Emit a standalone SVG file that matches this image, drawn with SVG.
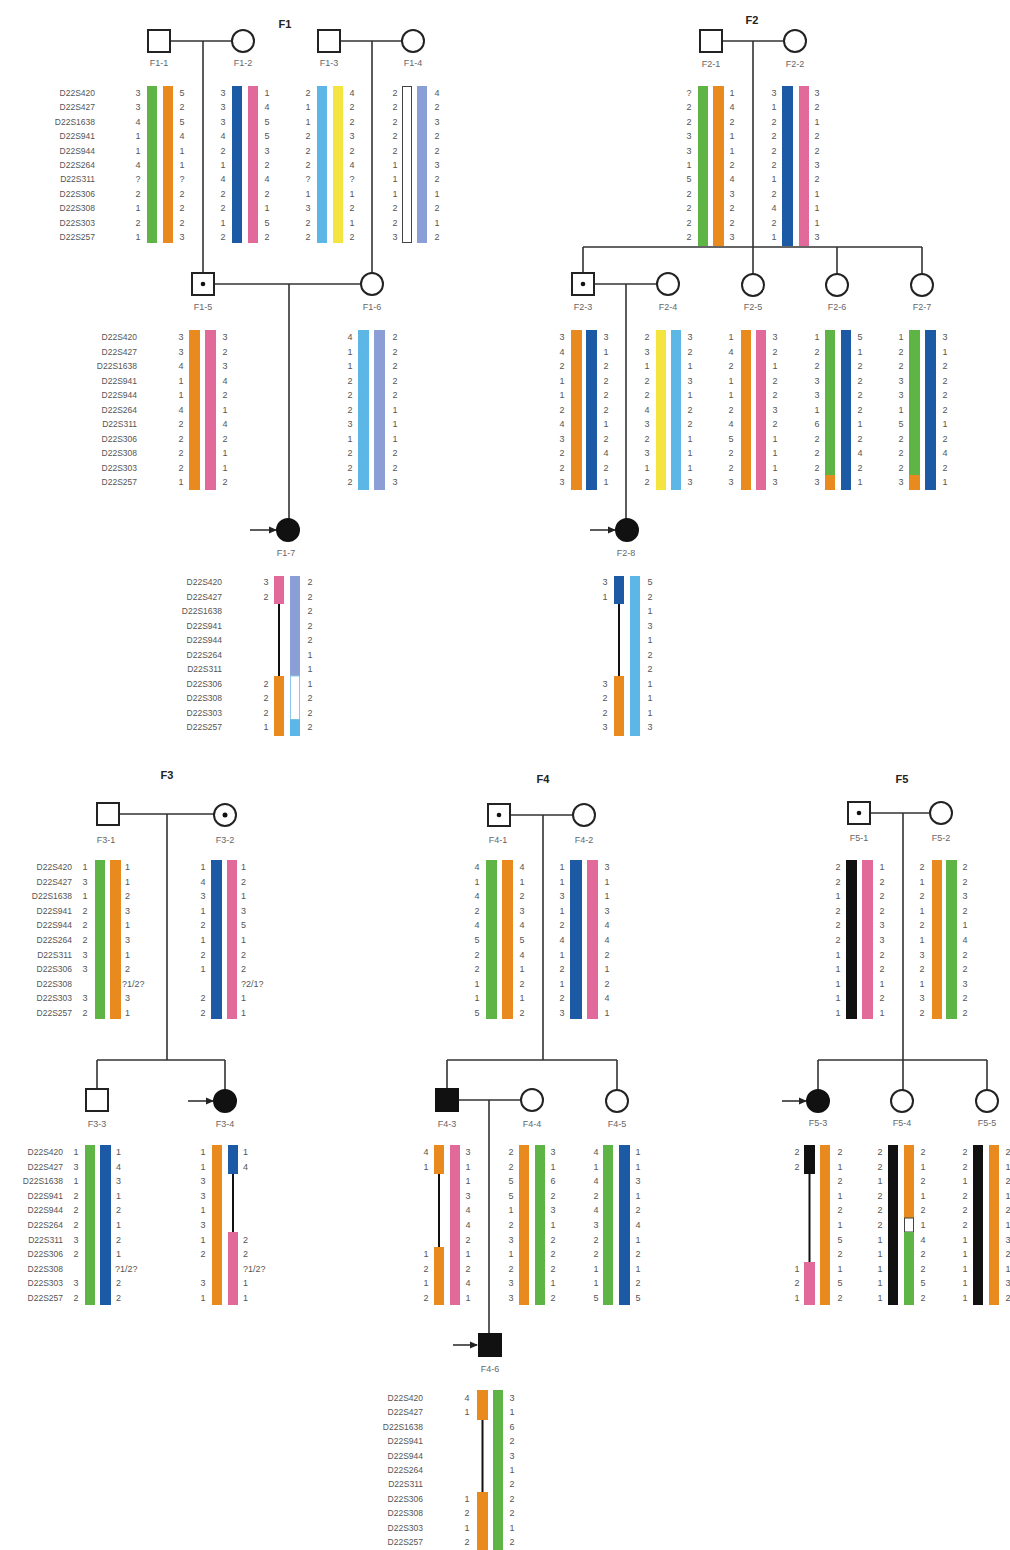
<svg xmlns="http://www.w3.org/2000/svg" width="1010" height="1550" viewBox="0 0 1010 1550">
<style>
.m{font-family:"Liberation Sans",Arial,sans-serif;font-size:8.5px;fill:#555;text-anchor:end}
.a{font-family:"Liberation Sans",Arial,sans-serif;font-size:9px;fill:#555;text-anchor:middle}
.s{font-family:"Liberation Sans",Arial,sans-serif;font-size:9px;fill:#555;text-anchor:start}
.l{font-family:"Liberation Sans",Arial,sans-serif;font-size:9px;fill:#666;text-anchor:middle}
.f{font-family:"Liberation Sans",Arial,sans-serif;font-size:11px;font-weight:bold;fill:#222;text-anchor:middle}
.sym{fill:#fff;stroke:#222;stroke-width:2}
.aff{fill:#111;stroke:#111;stroke-width:2}
.dot{fill:#111}
.ln{stroke:#333;stroke-width:1.6;fill:none}
.rl{stroke:#111;stroke-width:2;fill:none}
.g{fill:#5fb446}.o{fill:#e98a1e}.b{fill:#1d5aa5}.p{fill:#e26a9b}.lb{fill:#5cb6e6}.y{fill:#f4e440}.pw{fill:#8b9fd6}.k{fill:#111}
.w{fill:#fff;stroke:#444;stroke-width:1}
.wl{fill:#fff;stroke:#8fc7ea;stroke-width:1}
</style>
<defs>
<marker id="ah" markerWidth="8" markerHeight="8" refX="7" refY="4" orient="auto" markerUnits="userSpaceOnUse">
<path d="M0,0.5 L8,4 L0,7.5 Z" fill="#222"/>
</marker>
</defs>

<g id="titles">
<text class="f" x="285" y="28">F1</text>
<text class="f" x="752" y="24">F2</text>
<text class="f" x="167" y="779">F3</text>
<text class="f" x="543" y="783">F4</text>
<text class="f" x="902" y="783">F5</text>
</g>

<g id="connectors">
<path class="ln" d="M170,41H232M203,41V273"/>
<path class="ln" d="M340,41H402M372,41V273"/>
<path class="ln" d="M213,284H361M289,284V519"/>
<path class="ln" d="M722,41H784M753,41V247M583,247H922M583,247V273M753,247V274M837,247V274M922,247V274"/>
<path class="ln" d="M594,284H657M626,284V519"/>
<path class="ln" d="M118,814H214M167,814V1060M97,1060H225M97,1060V1089M225,1060V1090"/>
<path class="ln" d="M510,815H573M543,815V1060M447,1060H617M447,1060V1089M617,1060V1090"/>
<path class="ln" d="M458,1100H521M489,1100V1333"/>
<path class="ln" d="M870,813H929M903,813V1090M818,1060H987M818,1060V1090M987,1060V1090"/>
<line class="ln" x1="250" y1="530" x2="276" y2="530" marker-end="url(#ah)"/>
<line class="ln" x1="590" y1="530" x2="615" y2="530" marker-end="url(#ah)"/>
<line class="ln" x1="188" y1="1101" x2="213" y2="1101" marker-end="url(#ah)"/>
<line class="ln" x1="453" y1="1345" x2="477" y2="1345" marker-end="url(#ah)"/>
<line class="ln" x1="782" y1="1101" x2="806" y2="1101" marker-end="url(#ah)"/>
</g>

<g id="markers">
<text class="m"><tspan x="95" y="96">D22S420</tspan><tspan x="95" y="110.4">D22S427</tspan><tspan x="95" y="124.8">D22S1638</tspan><tspan x="95" y="139.2">D22S941</tspan><tspan x="95" y="153.6">D22S944</tspan><tspan x="95" y="168">D22S264</tspan><tspan x="95" y="182.4">D22S311</tspan><tspan x="95" y="196.8">D22S306</tspan><tspan x="95" y="211.2">D22S308</tspan><tspan x="95" y="225.6">D22S303</tspan><tspan x="95" y="240">D22S257</tspan></text>
<text class="m"><tspan x="137" y="340">D22S420</tspan><tspan x="137" y="354.5">D22S427</tspan><tspan x="137" y="369">D22S1638</tspan><tspan x="137" y="383.5">D22S941</tspan><tspan x="137" y="398">D22S944</tspan><tspan x="137" y="412.5">D22S264</tspan><tspan x="137" y="427">D22S311</tspan><tspan x="137" y="441.5">D22S306</tspan><tspan x="137" y="456">D22S308</tspan><tspan x="137" y="470.5">D22S303</tspan><tspan x="137" y="485">D22S257</tspan></text>
<text class="m"><tspan x="222" y="585">D22S420</tspan><tspan x="222" y="599.5">D22S427</tspan><tspan x="222" y="614">D22S1638</tspan><tspan x="222" y="628.5">D22S941</tspan><tspan x="222" y="643">D22S944</tspan><tspan x="222" y="657.5">D22S264</tspan><tspan x="222" y="672">D22S311</tspan><tspan x="222" y="686.5">D22S306</tspan><tspan x="222" y="701">D22S308</tspan><tspan x="222" y="715.5">D22S303</tspan><tspan x="222" y="730">D22S257</tspan></text>
<text class="m"><tspan x="72" y="870">D22S420</tspan><tspan x="72" y="884.6">D22S427</tspan><tspan x="72" y="899.2">D22S1638</tspan><tspan x="72" y="913.8">D22S941</tspan><tspan x="72" y="928.4">D22S944</tspan><tspan x="72" y="943">D22S264</tspan><tspan x="72" y="957.6">D22S311</tspan><tspan x="72" y="972.2">D22S306</tspan><tspan x="72" y="986.8">D22S308</tspan><tspan x="72" y="1001.4">D22S303</tspan><tspan x="72" y="1016">D22S257</tspan></text>
<text class="m"><tspan x="63" y="1155">D22S420</tspan><tspan x="63" y="1169.6">D22S427</tspan><tspan x="63" y="1184.2">D22S1638</tspan><tspan x="63" y="1198.8">D22S941</tspan><tspan x="63" y="1213.4">D22S944</tspan><tspan x="63" y="1228">D22S264</tspan><tspan x="63" y="1242.6">D22S311</tspan><tspan x="63" y="1257.2">D22S306</tspan><tspan x="63" y="1271.8">D22S308</tspan><tspan x="63" y="1286.4">D22S303</tspan><tspan x="63" y="1301">D22S257</tspan></text>
<text class="m"><tspan x="423" y="1401">D22S420</tspan><tspan x="423" y="1415.4">D22S427</tspan><tspan x="423" y="1429.8">D22S1638</tspan><tspan x="423" y="1444.2">D22S941</tspan><tspan x="423" y="1458.6">D22S944</tspan><tspan x="423" y="1473">D22S264</tspan><tspan x="423" y="1487.4">D22S311</tspan><tspan x="423" y="1501.8">D22S306</tspan><tspan x="423" y="1516.2">D22S308</tspan><tspan x="423" y="1530.6">D22S303</tspan><tspan x="423" y="1545">D22S257</tspan></text>
</g>

<!-- F1 -->
<g id="F1-1">
<rect class="sym" x="148" y="30" width="22" height="22"/>
<text class="l" x="159" y="66">F1-1</text>
<rect class="g" x="147" y="86" width="10" height="157"/><rect class="o" x="163" y="86" width="10" height="157"/>
<text class="a"><tspan x="138" y="96">3</tspan><tspan x="138" y="110.4">3</tspan><tspan x="138" y="124.8">4</tspan><tspan x="138" y="139.2">1</tspan><tspan x="138" y="153.6">1</tspan><tspan x="138" y="168">4</tspan><tspan x="138" y="182.4">?</tspan><tspan x="138" y="196.8">2</tspan><tspan x="138" y="211.2">1</tspan><tspan x="138" y="225.6">2</tspan><tspan x="138" y="240">1</tspan></text>
<text class="a"><tspan x="182" y="96">5</tspan><tspan x="182" y="110.4">2</tspan><tspan x="182" y="124.8">5</tspan><tspan x="182" y="139.2">4</tspan><tspan x="182" y="153.6">1</tspan><tspan x="182" y="168">1</tspan><tspan x="182" y="182.4">?</tspan><tspan x="182" y="196.8">2</tspan><tspan x="182" y="211.2">2</tspan><tspan x="182" y="225.6">2</tspan><tspan x="182" y="240">3</tspan></text>
</g>
<g id="F1-2">
<circle class="sym" cx="243" cy="41" r="11"/>
<text class="l" x="243" y="66">F1-2</text>
<rect class="b" x="232" y="86" width="10" height="157"/><rect class="p" x="248" y="86" width="10" height="157"/>
<text class="a"><tspan x="223" y="96">3</tspan><tspan x="223" y="110.4">3</tspan><tspan x="223" y="124.8">3</tspan><tspan x="223" y="139.2">4</tspan><tspan x="223" y="153.6">2</tspan><tspan x="223" y="168">1</tspan><tspan x="223" y="182.4">4</tspan><tspan x="223" y="196.8">2</tspan><tspan x="223" y="211.2">2</tspan><tspan x="223" y="225.6">1</tspan><tspan x="223" y="240">2</tspan></text>
<text class="a"><tspan x="267" y="96">1</tspan><tspan x="267" y="110.4">4</tspan><tspan x="267" y="124.8">5</tspan><tspan x="267" y="139.2">5</tspan><tspan x="267" y="153.6">3</tspan><tspan x="267" y="168">2</tspan><tspan x="267" y="182.4">4</tspan><tspan x="267" y="196.8">2</tspan><tspan x="267" y="211.2">1</tspan><tspan x="267" y="225.6">5</tspan><tspan x="267" y="240">2</tspan></text>
</g>
<g id="F1-3">
<rect class="sym" x="318" y="30" width="22" height="22"/>
<text class="l" x="329" y="66">F1-3</text>
<rect class="lb" x="317" y="86" width="10" height="157"/><rect class="y" x="333" y="86" width="10" height="157"/>
<text class="a"><tspan x="308" y="96">2</tspan><tspan x="308" y="110.4">1</tspan><tspan x="308" y="124.8">1</tspan><tspan x="308" y="139.2">2</tspan><tspan x="308" y="153.6">2</tspan><tspan x="308" y="168">2</tspan><tspan x="308" y="182.4">?</tspan><tspan x="308" y="196.8">1</tspan><tspan x="308" y="211.2">3</tspan><tspan x="308" y="225.6">2</tspan><tspan x="308" y="240">2</tspan></text>
<text class="a"><tspan x="352" y="96">4</tspan><tspan x="352" y="110.4">2</tspan><tspan x="352" y="124.8">2</tspan><tspan x="352" y="139.2">3</tspan><tspan x="352" y="153.6">2</tspan><tspan x="352" y="168">4</tspan><tspan x="352" y="182.4">?</tspan><tspan x="352" y="196.8">1</tspan><tspan x="352" y="211.2">2</tspan><tspan x="352" y="225.6">1</tspan><tspan x="352" y="240">2</tspan></text>
</g>
<g id="F1-4">
<circle class="sym" cx="413" cy="41" r="11"/>
<text class="l" x="413" y="66">F1-4</text>
<rect class="w" x="402.5" y="86.5" width="9" height="156"/><rect class="pw" x="417" y="86" width="10" height="157"/>
<text class="a"><tspan x="395" y="96">2</tspan><tspan x="395" y="110.4">2</tspan><tspan x="395" y="124.8">2</tspan><tspan x="395" y="139.2">2</tspan><tspan x="395" y="153.6">2</tspan><tspan x="395" y="168">1</tspan><tspan x="395" y="182.4">1</tspan><tspan x="395" y="196.8">1</tspan><tspan x="395" y="211.2">2</tspan><tspan x="395" y="225.6">2</tspan><tspan x="395" y="240">3</tspan></text>
<text class="a"><tspan x="437" y="96">4</tspan><tspan x="437" y="110.4">2</tspan><tspan x="437" y="124.8">3</tspan><tspan x="437" y="139.2">2</tspan><tspan x="437" y="153.6">2</tspan><tspan x="437" y="168">3</tspan><tspan x="437" y="182.4">2</tspan><tspan x="437" y="196.8">1</tspan><tspan x="437" y="211.2">2</tspan><tspan x="437" y="225.6">1</tspan><tspan x="437" y="240">2</tspan></text>
</g>
<g id="F1-5">
<rect class="sym" x="192" y="273" width="22" height="22"/><circle class="dot" cx="203" cy="284" r="2.3"/>
<text class="l" x="203" y="310">F1-5</text>
<rect class="o" x="189" y="330" width="11" height="160"/><rect class="p" x="205" y="330" width="11" height="160"/>
<text class="a"><tspan x="181" y="340">3</tspan><tspan x="181" y="354.5">3</tspan><tspan x="181" y="369">4</tspan><tspan x="181" y="383.5">1</tspan><tspan x="181" y="398">1</tspan><tspan x="181" y="412.5">4</tspan><tspan x="181" y="427">2</tspan><tspan x="181" y="441.5">2</tspan><tspan x="181" y="456">2</tspan><tspan x="181" y="470.5">2</tspan><tspan x="181" y="485">1</tspan></text>
<text class="a"><tspan x="225" y="340">3</tspan><tspan x="225" y="354.5">2</tspan><tspan x="225" y="369">3</tspan><tspan x="225" y="383.5">4</tspan><tspan x="225" y="398">2</tspan><tspan x="225" y="412.5">1</tspan><tspan x="225" y="427">4</tspan><tspan x="225" y="441.5">2</tspan><tspan x="225" y="456">1</tspan><tspan x="225" y="470.5">1</tspan><tspan x="225" y="485">2</tspan></text>
</g>
<g id="F1-6">
<circle class="sym" cx="372" cy="284" r="11"/>
<text class="l" x="372" y="310">F1-6</text>
<rect class="lb" x="358" y="330" width="11" height="160"/><rect class="pw" x="374" y="330" width="11" height="160"/>
<text class="a"><tspan x="350" y="340">4</tspan><tspan x="350" y="354.5">1</tspan><tspan x="350" y="369">1</tspan><tspan x="350" y="383.5">2</tspan><tspan x="350" y="398">2</tspan><tspan x="350" y="412.5">2</tspan><tspan x="350" y="427">3</tspan><tspan x="350" y="441.5">1</tspan><tspan x="350" y="456">2</tspan><tspan x="350" y="470.5">2</tspan><tspan x="350" y="485">2</tspan></text>
<text class="a"><tspan x="395" y="340">2</tspan><tspan x="395" y="354.5">2</tspan><tspan x="395" y="369">2</tspan><tspan x="395" y="383.5">2</tspan><tspan x="395" y="398">2</tspan><tspan x="395" y="412.5">1</tspan><tspan x="395" y="427">1</tspan><tspan x="395" y="441.5">1</tspan><tspan x="395" y="456">2</tspan><tspan x="395" y="470.5">2</tspan><tspan x="395" y="485">3</tspan></text>
</g>
<g id="F1-7">
<circle class="aff" cx="288" cy="530" r="11"/>
<text class="l" x="286" y="556">F1-7</text>
<rect class="p" x="274" y="576" width="10" height="28"/><path class="rl" d="M279,604V676"/><rect class="o" x="274" y="676" width="10" height="60"/>
<rect class="pw" x="290" y="576" width="10" height="100"/><rect class="wl" x="290.5" y="676" width="9" height="43.5"/><rect class="lb" x="290" y="719.5" width="10" height="16.5"/>
<text class="a"><tspan x="266" y="585">3</tspan><tspan x="266" y="599.5">2</tspan><tspan x="266" y="686.5">2</tspan><tspan x="266" y="701">2</tspan><tspan x="266" y="715.5">2</tspan><tspan x="266" y="730">1</tspan></text>
<text class="a"><tspan x="310" y="585">2</tspan><tspan x="310" y="599.5">2</tspan><tspan x="310" y="614">2</tspan><tspan x="310" y="628.5">2</tspan><tspan x="310" y="643">2</tspan><tspan x="310" y="657.5">1</tspan><tspan x="310" y="672">1</tspan><tspan x="310" y="686.5">1</tspan><tspan x="310" y="701">2</tspan><tspan x="310" y="715.5">2</tspan><tspan x="310" y="730">2</tspan></text>
</g>

<!-- F2 -->
<g id="F2-1">
<rect class="sym" x="700" y="30" width="22" height="22"/>
<text class="l" x="711" y="67">F2-1</text>
<rect class="g" x="698" y="86" width="10" height="160"/><rect class="o" x="713" y="86" width="11" height="160"/>
<text class="a"><tspan x="689" y="96">?</tspan><tspan x="689" y="110.4">2</tspan><tspan x="689" y="124.8">2</tspan><tspan x="689" y="139.2">3</tspan><tspan x="689" y="153.6">3</tspan><tspan x="689" y="168">1</tspan><tspan x="689" y="182.4">5</tspan><tspan x="689" y="196.8">2</tspan><tspan x="689" y="211.2">2</tspan><tspan x="689" y="225.6">2</tspan><tspan x="689" y="240">2</tspan></text>
<text class="a"><tspan x="732" y="96">1</tspan><tspan x="732" y="110.4">4</tspan><tspan x="732" y="124.8">2</tspan><tspan x="732" y="139.2">1</tspan><tspan x="732" y="153.6">1</tspan><tspan x="732" y="168">2</tspan><tspan x="732" y="182.4">4</tspan><tspan x="732" y="196.8">3</tspan><tspan x="732" y="211.2">2</tspan><tspan x="732" y="225.6">2</tspan><tspan x="732" y="240">3</tspan></text>
</g>
<g id="F2-2">
<circle class="sym" cx="795" cy="41" r="11"/>
<text class="l" x="795" y="67">F2-2</text>
<rect class="b" x="782" y="86" width="11" height="160"/><rect class="p" x="799" y="86" width="10" height="160"/>
<text class="a"><tspan x="774" y="96">3</tspan><tspan x="774" y="110.4">1</tspan><tspan x="774" y="124.8">2</tspan><tspan x="774" y="139.2">2</tspan><tspan x="774" y="153.6">2</tspan><tspan x="774" y="168">2</tspan><tspan x="774" y="182.4">1</tspan><tspan x="774" y="196.8">2</tspan><tspan x="774" y="211.2">4</tspan><tspan x="774" y="225.6">2</tspan><tspan x="774" y="240">1</tspan></text>
<text class="a"><tspan x="817" y="96">3</tspan><tspan x="817" y="110.4">2</tspan><tspan x="817" y="124.8">1</tspan><tspan x="817" y="139.2">2</tspan><tspan x="817" y="153.6">2</tspan><tspan x="817" y="168">3</tspan><tspan x="817" y="182.4">2</tspan><tspan x="817" y="196.8">1</tspan><tspan x="817" y="211.2">1</tspan><tspan x="817" y="225.6">1</tspan><tspan x="817" y="240">3</tspan></text>
</g>
<g id="F2-3">
<rect class="sym" x="572" y="273" width="22" height="22"/><circle class="dot" cx="583" cy="284" r="2.3"/>
<text class="l" x="583" y="310">F2-3</text>
<rect class="o" x="571" y="330" width="11" height="160"/><rect class="b" x="586" y="330" width="11" height="160"/>
<text class="a"><tspan x="562" y="340">3</tspan><tspan x="562" y="354.5">4</tspan><tspan x="562" y="369">2</tspan><tspan x="562" y="383.5">1</tspan><tspan x="562" y="398">1</tspan><tspan x="562" y="412.5">2</tspan><tspan x="562" y="427">4</tspan><tspan x="562" y="441.5">3</tspan><tspan x="562" y="456">2</tspan><tspan x="562" y="470.5">2</tspan><tspan x="562" y="485">3</tspan></text>
<text class="a"><tspan x="606" y="340">3</tspan><tspan x="606" y="354.5">1</tspan><tspan x="606" y="369">2</tspan><tspan x="606" y="383.5">2</tspan><tspan x="606" y="398">2</tspan><tspan x="606" y="412.5">2</tspan><tspan x="606" y="427">1</tspan><tspan x="606" y="441.5">2</tspan><tspan x="606" y="456">4</tspan><tspan x="606" y="470.5">2</tspan><tspan x="606" y="485">1</tspan></text>
</g>
<g id="F2-4">
<circle class="sym" cx="668" cy="284" r="11"/>
<text class="l" x="668" y="310">F2-4</text>
<rect class="y" x="656" y="330" width="10" height="160"/><rect class="lb" x="671" y="330" width="10" height="160"/>
<text class="a"><tspan x="647" y="340">2</tspan><tspan x="647" y="354.5">3</tspan><tspan x="647" y="369">1</tspan><tspan x="647" y="383.5">2</tspan><tspan x="647" y="398">2</tspan><tspan x="647" y="412.5">4</tspan><tspan x="647" y="427">3</tspan><tspan x="647" y="441.5">2</tspan><tspan x="647" y="456">3</tspan><tspan x="647" y="470.5">1</tspan><tspan x="647" y="485">2</tspan></text>
<text class="a"><tspan x="690" y="340">3</tspan><tspan x="690" y="354.5">2</tspan><tspan x="690" y="369">1</tspan><tspan x="690" y="383.5">3</tspan><tspan x="690" y="398">1</tspan><tspan x="690" y="412.5">2</tspan><tspan x="690" y="427">2</tspan><tspan x="690" y="441.5">1</tspan><tspan x="690" y="456">1</tspan><tspan x="690" y="470.5">1</tspan><tspan x="690" y="485">3</tspan></text>
</g>
<g id="F2-5">
<circle class="sym" cx="753" cy="285" r="11"/>
<text class="l" x="753" y="310">F2-5</text>
<rect class="o" x="741" y="330" width="10" height="160"/><rect class="p" x="756" y="330" width="10" height="160"/>
<text class="a"><tspan x="731" y="340">1</tspan><tspan x="731" y="354.5">4</tspan><tspan x="731" y="369">2</tspan><tspan x="731" y="383.5">1</tspan><tspan x="731" y="398">1</tspan><tspan x="731" y="412.5">2</tspan><tspan x="731" y="427">4</tspan><tspan x="731" y="441.5">5</tspan><tspan x="731" y="456">2</tspan><tspan x="731" y="470.5">2</tspan><tspan x="731" y="485">3</tspan></text>
<text class="a"><tspan x="775" y="340">3</tspan><tspan x="775" y="354.5">2</tspan><tspan x="775" y="369">1</tspan><tspan x="775" y="383.5">2</tspan><tspan x="775" y="398">2</tspan><tspan x="775" y="412.5">3</tspan><tspan x="775" y="427">2</tspan><tspan x="775" y="441.5">1</tspan><tspan x="775" y="456">1</tspan><tspan x="775" y="470.5">1</tspan><tspan x="775" y="485">3</tspan></text>
</g>
<g id="F2-6">
<circle class="sym" cx="837" cy="285" r="11"/>
<text class="l" x="837" y="310">F2-6</text>
<rect class="g" x="825" y="330" width="10" height="145"/><rect class="o" x="825" y="475" width="10" height="15"/><rect class="b" x="841" y="330" width="10" height="160"/>
<text class="a"><tspan x="817" y="340">1</tspan><tspan x="817" y="354.5">2</tspan><tspan x="817" y="369">2</tspan><tspan x="817" y="383.5">3</tspan><tspan x="817" y="398">3</tspan><tspan x="817" y="412.5">1</tspan><tspan x="817" y="427">6</tspan><tspan x="817" y="441.5">2</tspan><tspan x="817" y="456">2</tspan><tspan x="817" y="470.5">2</tspan><tspan x="817" y="485">3</tspan></text>
<text class="a"><tspan x="860" y="340">5</tspan><tspan x="860" y="354.5">1</tspan><tspan x="860" y="369">2</tspan><tspan x="860" y="383.5">2</tspan><tspan x="860" y="398">2</tspan><tspan x="860" y="412.5">2</tspan><tspan x="860" y="427">1</tspan><tspan x="860" y="441.5">2</tspan><tspan x="860" y="456">4</tspan><tspan x="860" y="470.5">2</tspan><tspan x="860" y="485">1</tspan></text>
</g>
<g id="F2-7">
<circle class="sym" cx="922" cy="285" r="11"/>
<text class="l" x="922" y="310">F2-7</text>
<rect class="g" x="909" y="330" width="11" height="145"/><rect class="o" x="909" y="475" width="11" height="15"/><rect class="b" x="925" y="330" width="11" height="160"/>
<text class="a"><tspan x="901" y="340">1</tspan><tspan x="901" y="354.5">2</tspan><tspan x="901" y="369">2</tspan><tspan x="901" y="383.5">3</tspan><tspan x="901" y="398">3</tspan><tspan x="901" y="412.5">1</tspan><tspan x="901" y="427">5</tspan><tspan x="901" y="441.5">2</tspan><tspan x="901" y="456">2</tspan><tspan x="901" y="470.5">2</tspan><tspan x="901" y="485">3</tspan></text>
<text class="a"><tspan x="945" y="340">3</tspan><tspan x="945" y="354.5">1</tspan><tspan x="945" y="369">2</tspan><tspan x="945" y="383.5">2</tspan><tspan x="945" y="398">2</tspan><tspan x="945" y="412.5">2</tspan><tspan x="945" y="427">1</tspan><tspan x="945" y="441.5">2</tspan><tspan x="945" y="456">4</tspan><tspan x="945" y="470.5">2</tspan><tspan x="945" y="485">1</tspan></text>
</g>
<g id="F2-8">
<circle class="aff" cx="627" cy="530" r="11"/>
<text class="l" x="626" y="556">F2-8</text>
<rect class="b" x="614" y="576" width="10" height="28"/><path class="rl" d="M619,604V676"/><rect class="o" x="614" y="676" width="10" height="60"/>
<rect class="lb" x="630" y="576" width="10" height="160"/>
<text class="a"><tspan x="605" y="585">3</tspan><tspan x="605" y="599.5">1</tspan><tspan x="605" y="686.5">3</tspan><tspan x="605" y="701">2</tspan><tspan x="605" y="715.5">2</tspan><tspan x="605" y="730">3</tspan></text>
<text class="a"><tspan x="650" y="585">5</tspan><tspan x="650" y="599.5">2</tspan><tspan x="650" y="614">1</tspan><tspan x="650" y="628.5">3</tspan><tspan x="650" y="643">1</tspan><tspan x="650" y="657.5">2</tspan><tspan x="650" y="672">2</tspan><tspan x="650" y="686.5">1</tspan><tspan x="650" y="701">1</tspan><tspan x="650" y="715.5">1</tspan><tspan x="650" y="730">3</tspan></text>
</g>

<!-- F3 -->
<g id="F3-1">
<rect class="sym" x="97" y="803" width="22" height="22"/>
<text class="l" x="106" y="843">F3-1</text>
<rect class="g" x="95" y="860" width="10" height="159"/><rect class="o" x="110" y="860" width="11" height="159"/>
<text class="a"><tspan x="85" y="870">1</tspan><tspan x="85" y="884.6">3</tspan><tspan x="85" y="899.2">1</tspan><tspan x="85" y="913.8">2</tspan><tspan x="85" y="928.4">2</tspan><tspan x="85" y="943">2</tspan><tspan x="85" y="957.6">3</tspan><tspan x="85" y="972.2">3</tspan><tspan x="85" y="1001.4">3</tspan><tspan x="85" y="1016">2</tspan></text>
<text class="s"><tspan x="125" y="870">1</tspan><tspan x="125" y="884.6">1</tspan><tspan x="125" y="899.2">2</tspan><tspan x="125" y="913.8">3</tspan><tspan x="125" y="928.4">1</tspan><tspan x="125" y="943">3</tspan><tspan x="125" y="957.6">1</tspan><tspan x="125" y="972.2">2</tspan><tspan x="122" y="986.8">?1/2?</tspan><tspan x="125" y="1001.4">3</tspan><tspan x="125" y="1016">1</tspan></text>
</g>
<g id="F3-2">
<circle class="sym" cx="225" cy="815" r="11"/><circle class="dot" cx="225" cy="815" r="2.5"/>
<text class="l" x="225" y="843">F3-2</text>
<rect class="b" x="211" y="860" width="11" height="159"/><rect class="p" x="227" y="860" width="10" height="159"/>
<text class="a"><tspan x="203" y="870">1</tspan><tspan x="203" y="884.6">4</tspan><tspan x="203" y="899.2">3</tspan><tspan x="203" y="913.8">1</tspan><tspan x="203" y="928.4">2</tspan><tspan x="203" y="943">1</tspan><tspan x="203" y="957.6">2</tspan><tspan x="203" y="972.2">1</tspan><tspan x="203" y="1001.4">2</tspan><tspan x="203" y="1016">2</tspan></text>
<text class="s"><tspan x="241" y="870">1</tspan><tspan x="241" y="884.6">2</tspan><tspan x="241" y="899.2">1</tspan><tspan x="241" y="913.8">3</tspan><tspan x="241" y="928.4">5</tspan><tspan x="241" y="943">1</tspan><tspan x="241" y="957.6">2</tspan><tspan x="241" y="972.2">2</tspan><tspan x="241" y="986.8">?2/1?</tspan><tspan x="241" y="1001.4">1</tspan><tspan x="241" y="1016">1</tspan></text>
</g>
<g id="F3-3">
<rect class="sym" x="86" y="1089" width="22" height="22"/>
<text class="l" x="97" y="1127">F3-3</text>
<rect class="g" x="85" y="1145" width="10" height="160"/><rect class="b" x="100" y="1145" width="11" height="160"/>
<text class="a"><tspan x="76" y="1155">1</tspan><tspan x="76" y="1169.6">3</tspan><tspan x="76" y="1184.2">1</tspan><tspan x="76" y="1198.8">2</tspan><tspan x="76" y="1213.4">2</tspan><tspan x="76" y="1228">2</tspan><tspan x="76" y="1242.6">3</tspan><tspan x="76" y="1257.2">2</tspan><tspan x="76" y="1286.4">3</tspan><tspan x="76" y="1301">2</tspan></text>
<text class="s"><tspan x="116" y="1155">1</tspan><tspan x="116" y="1169.6">4</tspan><tspan x="116" y="1184.2">3</tspan><tspan x="116" y="1198.8">1</tspan><tspan x="116" y="1213.4">2</tspan><tspan x="116" y="1228">1</tspan><tspan x="116" y="1242.6">2</tspan><tspan x="116" y="1257.2">1</tspan><tspan x="115" y="1271.8">?1/2?</tspan><tspan x="116" y="1286.4">2</tspan><tspan x="116" y="1301">2</tspan></text>
</g>
<g id="F3-4">
<circle class="aff" cx="225" cy="1101" r="11"/>
<text class="l" x="225" y="1127">F3-4</text>
<rect class="o" x="212" y="1145" width="10" height="160"/>
<rect class="b" x="228" y="1145" width="10" height="29"/><path class="rl" d="M233,1174V1232"/><rect class="p" x="228" y="1232" width="10" height="73"/>
<text class="a"><tspan x="203" y="1155">1</tspan><tspan x="203" y="1169.6">1</tspan><tspan x="203" y="1184.2">3</tspan><tspan x="203" y="1198.8">3</tspan><tspan x="203" y="1213.4">1</tspan><tspan x="203" y="1228">3</tspan><tspan x="203" y="1242.6">1</tspan><tspan x="203" y="1257.2">2</tspan><tspan x="203" y="1286.4">3</tspan><tspan x="203" y="1301">1</tspan></text>
<text class="s"><tspan x="243" y="1155">1</tspan><tspan x="243" y="1169.6">4</tspan><tspan x="243" y="1242.6">2</tspan><tspan x="243" y="1257.2">2</tspan><tspan x="243" y="1271.8">?1/2?</tspan><tspan x="243" y="1286.4">1</tspan><tspan x="243" y="1301">1</tspan></text>
</g>

<!-- F4 -->
<g id="F4-1">
<rect class="sym" x="488" y="804" width="22" height="22"/><circle class="dot" cx="499" cy="815" r="2.3"/>
<text class="l" x="498" y="843">F4-1</text>
<rect class="g" x="486" y="860" width="11" height="159"/><rect class="o" x="502" y="860" width="11" height="159"/>
<text class="a"><tspan x="477" y="870">4</tspan><tspan x="477" y="884.6">1</tspan><tspan x="477" y="899.2">4</tspan><tspan x="477" y="913.8">2</tspan><tspan x="477" y="928.4">4</tspan><tspan x="477" y="943">5</tspan><tspan x="477" y="957.6">2</tspan><tspan x="477" y="972.2">2</tspan><tspan x="477" y="986.8">1</tspan><tspan x="477" y="1001.4">1</tspan><tspan x="477" y="1016">5</tspan></text>
<text class="a"><tspan x="522" y="870">4</tspan><tspan x="522" y="884.6">1</tspan><tspan x="522" y="899.2">2</tspan><tspan x="522" y="913.8">3</tspan><tspan x="522" y="928.4">4</tspan><tspan x="522" y="943">5</tspan><tspan x="522" y="957.6">4</tspan><tspan x="522" y="972.2">1</tspan><tspan x="522" y="986.8">2</tspan><tspan x="522" y="1001.4">1</tspan><tspan x="522" y="1016">2</tspan></text>
</g>
<g id="F4-2">
<circle class="sym" cx="584" cy="815" r="11"/>
<text class="l" x="584" y="843">F4-2</text>
<rect class="b" x="570" y="860" width="12" height="159"/><rect class="p" x="587" y="860" width="11" height="159"/>
<text class="a"><tspan x="562" y="870">1</tspan><tspan x="562" y="884.6">1</tspan><tspan x="562" y="899.2">3</tspan><tspan x="562" y="913.8">1</tspan><tspan x="562" y="928.4">2</tspan><tspan x="562" y="943">4</tspan><tspan x="562" y="957.6">1</tspan><tspan x="562" y="972.2">2</tspan><tspan x="562" y="986.8">1</tspan><tspan x="562" y="1001.4">2</tspan><tspan x="562" y="1016">3</tspan></text>
<text class="a"><tspan x="607" y="870">3</tspan><tspan x="607" y="884.6">1</tspan><tspan x="607" y="899.2">1</tspan><tspan x="607" y="913.8">3</tspan><tspan x="607" y="928.4">4</tspan><tspan x="607" y="943">4</tspan><tspan x="607" y="957.6">2</tspan><tspan x="607" y="972.2">1</tspan><tspan x="607" y="986.8">2</tspan><tspan x="607" y="1001.4">4</tspan><tspan x="607" y="1016">1</tspan></text>
</g>
<g id="F4-3">
<rect class="aff" x="436" y="1089" width="22" height="22"/>
<text class="l" x="447" y="1127">F4-3</text>
<rect class="o" x="434" y="1145" width="10" height="29"/><path class="rl" d="M439,1174V1247"/><rect class="o" x="434" y="1247" width="10" height="58"/>
<rect class="p" x="450" y="1145" width="10" height="160"/>
<text class="a"><tspan x="426" y="1155">4</tspan><tspan x="426" y="1169.6">1</tspan><tspan x="426" y="1257.2">1</tspan><tspan x="426" y="1271.8">2</tspan><tspan x="426" y="1286.4">1</tspan><tspan x="426" y="1301">2</tspan></text>
<text class="a"><tspan x="468" y="1155">3</tspan><tspan x="468" y="1169.6">1</tspan><tspan x="468" y="1184.2">1</tspan><tspan x="468" y="1198.8">3</tspan><tspan x="468" y="1213.4">4</tspan><tspan x="468" y="1228">4</tspan><tspan x="468" y="1242.6">2</tspan><tspan x="468" y="1257.2">1</tspan><tspan x="468" y="1271.8">2</tspan><tspan x="468" y="1286.4">4</tspan><tspan x="468" y="1301">1</tspan></text>
</g>
<g id="F4-4">
<circle class="sym" cx="532" cy="1100" r="11"/>
<text class="l" x="532" y="1127">F4-4</text>
<rect class="o" x="519" y="1145" width="10" height="160"/><rect class="g" x="535" y="1145" width="10" height="160"/>
<text class="a"><tspan x="511" y="1155">2</tspan><tspan x="511" y="1169.6">2</tspan><tspan x="511" y="1184.2">5</tspan><tspan x="511" y="1198.8">5</tspan><tspan x="511" y="1213.4">1</tspan><tspan x="511" y="1228">2</tspan><tspan x="511" y="1242.6">3</tspan><tspan x="511" y="1257.2">1</tspan><tspan x="511" y="1271.8">2</tspan><tspan x="511" y="1286.4">3</tspan><tspan x="511" y="1301">3</tspan></text>
<text class="a"><tspan x="553" y="1155">3</tspan><tspan x="553" y="1169.6">1</tspan><tspan x="553" y="1184.2">6</tspan><tspan x="553" y="1198.8">2</tspan><tspan x="553" y="1213.4">3</tspan><tspan x="553" y="1228">1</tspan><tspan x="553" y="1242.6">2</tspan><tspan x="553" y="1257.2">2</tspan><tspan x="553" y="1271.8">2</tspan><tspan x="553" y="1286.4">1</tspan><tspan x="553" y="1301">2</tspan></text>
</g>
<g id="F4-5">
<circle class="sym" cx="617" cy="1101" r="11"/>
<text class="l" x="617" y="1127">F4-5</text>
<rect class="g" x="603" y="1145" width="10" height="160"/><rect class="b" x="619" y="1145" width="11" height="160"/>
<text class="a"><tspan x="596" y="1155">4</tspan><tspan x="596" y="1169.6">1</tspan><tspan x="596" y="1184.2">4</tspan><tspan x="596" y="1198.8">2</tspan><tspan x="596" y="1213.4">4</tspan><tspan x="596" y="1228">3</tspan><tspan x="596" y="1242.6">2</tspan><tspan x="596" y="1257.2">2</tspan><tspan x="596" y="1271.8">1</tspan><tspan x="596" y="1286.4">1</tspan><tspan x="596" y="1301">5</tspan></text>
<text class="a"><tspan x="638" y="1155">1</tspan><tspan x="638" y="1169.6">1</tspan><tspan x="638" y="1184.2">3</tspan><tspan x="638" y="1198.8">1</tspan><tspan x="638" y="1213.4">2</tspan><tspan x="638" y="1228">4</tspan><tspan x="638" y="1242.6">1</tspan><tspan x="638" y="1257.2">2</tspan><tspan x="638" y="1271.8">1</tspan><tspan x="638" y="1286.4">2</tspan><tspan x="638" y="1301">5</tspan></text>
</g>
<g id="F4-6">
<rect class="aff" x="479" y="1334" width="22" height="22"/>
<text class="l" x="490" y="1372">F4-6</text>
<rect class="o" x="477" y="1390" width="11" height="30"/><path class="rl" d="M482.5,1420V1492"/><rect class="o" x="477" y="1492" width="11" height="58"/>
<rect class="g" x="493" y="1390" width="10" height="160"/>
<text class="a"><tspan x="467" y="1401">4</tspan><tspan x="467" y="1415.4">1</tspan><tspan x="467" y="1501.8">1</tspan><tspan x="467" y="1516.2">2</tspan><tspan x="467" y="1530.6">1</tspan><tspan x="467" y="1545">2</tspan></text>
<text class="a"><tspan x="512" y="1401">3</tspan><tspan x="512" y="1415.4">1</tspan><tspan x="512" y="1429.8">6</tspan><tspan x="512" y="1444.2">2</tspan><tspan x="512" y="1458.6">3</tspan><tspan x="512" y="1473">1</tspan><tspan x="512" y="1487.4">2</tspan><tspan x="512" y="1501.8">2</tspan><tspan x="512" y="1516.2">2</tspan><tspan x="512" y="1530.6">1</tspan><tspan x="512" y="1545">2</tspan></text>
</g>

<!-- F5 -->
<g id="F5-1">
<rect class="sym" x="848" y="802" width="22" height="22"/><circle class="dot" cx="859" cy="813" r="2.3"/>
<text class="l" x="859" y="841">F5-1</text>
<rect class="k" x="846" y="860" width="11" height="159"/><rect class="p" x="862" y="860" width="11" height="159"/>
<text class="a"><tspan x="838" y="870">2</tspan><tspan x="838" y="884.6">2</tspan><tspan x="838" y="899.2">1</tspan><tspan x="838" y="913.8">2</tspan><tspan x="838" y="928.4">2</tspan><tspan x="838" y="943">2</tspan><tspan x="838" y="957.6">1</tspan><tspan x="838" y="972.2">1</tspan><tspan x="838" y="986.8">1</tspan><tspan x="838" y="1001.4">1</tspan><tspan x="838" y="1016">1</tspan></text>
<text class="a"><tspan x="882" y="870">1</tspan><tspan x="882" y="884.6">2</tspan><tspan x="882" y="899.2">2</tspan><tspan x="882" y="913.8">2</tspan><tspan x="882" y="928.4">3</tspan><tspan x="882" y="943">3</tspan><tspan x="882" y="957.6">2</tspan><tspan x="882" y="972.2">2</tspan><tspan x="882" y="986.8">1</tspan><tspan x="882" y="1001.4">2</tspan><tspan x="882" y="1016">1</tspan></text>
</g>
<g id="F5-2">
<circle class="sym" cx="941" cy="813" r="11"/>
<text class="l" x="941" y="841">F5-2</text>
<rect class="o" x="932" y="860" width="10" height="159"/><rect class="g" x="946" y="860" width="11" height="159"/>
<text class="a"><tspan x="922" y="870">2</tspan><tspan x="922" y="884.6">1</tspan><tspan x="922" y="899.2">2</tspan><tspan x="922" y="913.8">1</tspan><tspan x="922" y="928.4">2</tspan><tspan x="922" y="943">1</tspan><tspan x="922" y="957.6">3</tspan><tspan x="922" y="972.2">2</tspan><tspan x="922" y="986.8">1</tspan><tspan x="922" y="1001.4">3</tspan><tspan x="922" y="1016">2</tspan></text>
<text class="a"><tspan x="965" y="870">2</tspan><tspan x="965" y="884.6">2</tspan><tspan x="965" y="899.2">3</tspan><tspan x="965" y="913.8">2</tspan><tspan x="965" y="928.4">1</tspan><tspan x="965" y="943">4</tspan><tspan x="965" y="957.6">2</tspan><tspan x="965" y="972.2">2</tspan><tspan x="965" y="986.8">3</tspan><tspan x="965" y="1001.4">2</tspan><tspan x="965" y="1016">2</tspan></text>
</g>
<g id="F5-3">
<circle class="aff" cx="818" cy="1101" r="11"/>
<text class="l" x="818" y="1126">F5-3</text>
<rect class="k" x="804" y="1145" width="11" height="29"/><path class="rl" d="M809.5,1174V1262"/><rect class="p" x="804" y="1262" width="11" height="43"/>
<rect class="o" x="820" y="1145" width="10" height="160"/>
<text class="a"><tspan x="797" y="1155">2</tspan><tspan x="797" y="1169.6">2</tspan><tspan x="797" y="1271.8">1</tspan><tspan x="797" y="1286.4">2</tspan><tspan x="797" y="1301">1</tspan></text>
<text class="a"><tspan x="840" y="1155">2</tspan><tspan x="840" y="1169.6">1</tspan><tspan x="840" y="1184.2">2</tspan><tspan x="840" y="1198.8">1</tspan><tspan x="840" y="1213.4">2</tspan><tspan x="840" y="1228">1</tspan><tspan x="840" y="1242.6">5</tspan><tspan x="840" y="1257.2">2</tspan><tspan x="840" y="1271.8">1</tspan><tspan x="840" y="1286.4">5</tspan><tspan x="840" y="1301">2</tspan></text>
</g>
<g id="F5-4">
<circle class="sym" cx="902" cy="1101" r="11"/>
<text class="l" x="902" y="1126">F5-4</text>
<rect class="k" x="888" y="1145" width="10" height="160"/>
<rect class="o" x="904" y="1145" width="10" height="73"/><rect class="w" x="904.5" y="1218" width="9" height="14"/><rect class="g" x="904" y="1232" width="10" height="73"/>
<text class="a"><tspan x="880" y="1155">2</tspan><tspan x="880" y="1169.6">2</tspan><tspan x="880" y="1184.2">1</tspan><tspan x="880" y="1198.8">2</tspan><tspan x="880" y="1213.4">2</tspan><tspan x="880" y="1228">2</tspan><tspan x="880" y="1242.6">1</tspan><tspan x="880" y="1257.2">1</tspan><tspan x="880" y="1271.8">1</tspan><tspan x="880" y="1286.4">1</tspan><tspan x="880" y="1301">1</tspan></text>
<text class="a"><tspan x="923" y="1155">2</tspan><tspan x="923" y="1169.6">1</tspan><tspan x="923" y="1184.2">2</tspan><tspan x="923" y="1198.8">1</tspan><tspan x="923" y="1213.4">2</tspan><tspan x="923" y="1228">1</tspan><tspan x="923" y="1242.6">4</tspan><tspan x="923" y="1257.2">2</tspan><tspan x="923" y="1271.8">2</tspan><tspan x="923" y="1286.4">5</tspan><tspan x="923" y="1301">2</tspan></text>
</g>
<g id="F5-5">
<circle class="sym" cx="987" cy="1101" r="11"/>
<text class="l" x="987" y="1126">F5-5</text>
<rect class="k" x="973" y="1145" width="10" height="160"/><rect class="o" x="989" y="1145" width="10" height="160"/>
<text class="a"><tspan x="965" y="1155">2</tspan><tspan x="965" y="1169.6">2</tspan><tspan x="965" y="1184.2">1</tspan><tspan x="965" y="1198.8">2</tspan><tspan x="965" y="1213.4">2</tspan><tspan x="965" y="1228">2</tspan><tspan x="965" y="1242.6">1</tspan><tspan x="965" y="1257.2">1</tspan><tspan x="965" y="1271.8">1</tspan><tspan x="965" y="1286.4">1</tspan><tspan x="965" y="1301">1</tspan></text>
<text class="a"><tspan x="1008" y="1155">2</tspan><tspan x="1008" y="1169.6">1</tspan><tspan x="1008" y="1184.2">2</tspan><tspan x="1008" y="1198.8">1</tspan><tspan x="1008" y="1213.4">2</tspan><tspan x="1008" y="1228">1</tspan><tspan x="1008" y="1242.6">3</tspan><tspan x="1008" y="1257.2">2</tspan><tspan x="1008" y="1271.8">1</tspan><tspan x="1008" y="1286.4">3</tspan><tspan x="1008" y="1301">2</tspan></text>
</g>
</svg>
